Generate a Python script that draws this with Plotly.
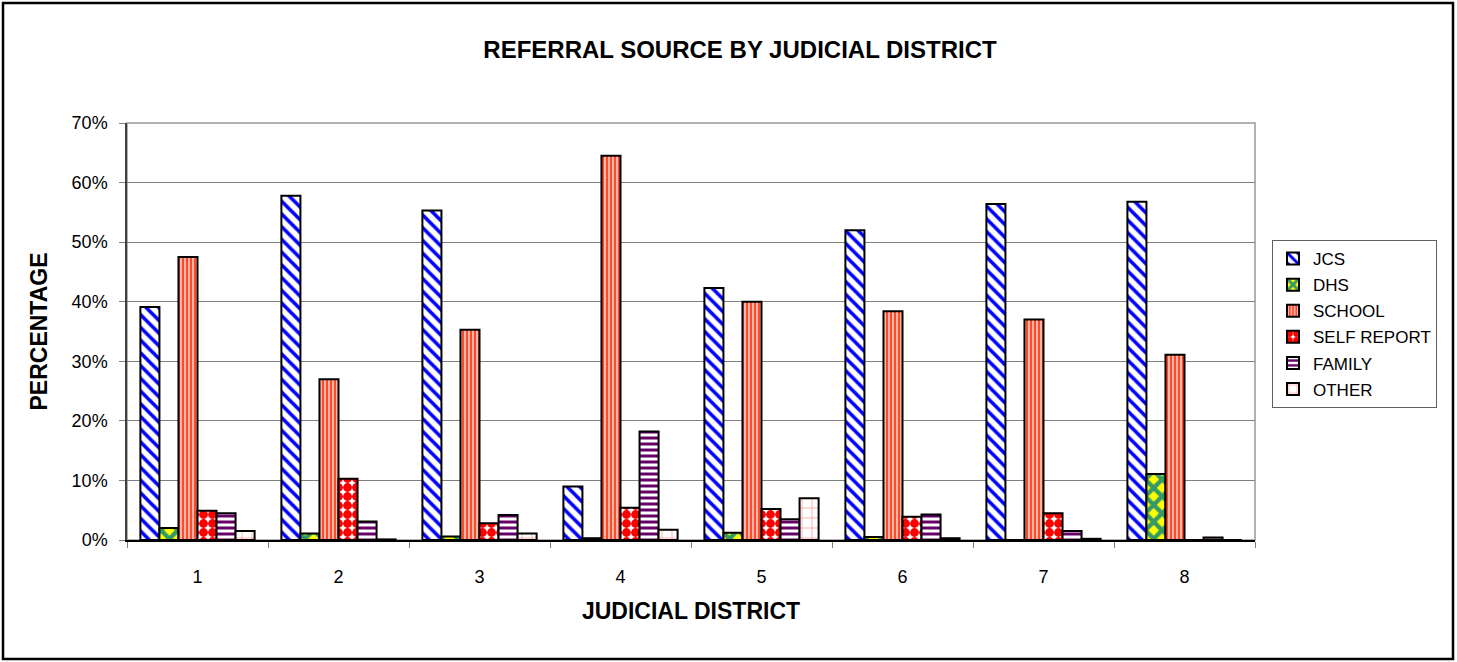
import plotly.graph_objects as go

districts = ["1", "2", "3", "4", "5", "6", "7", "8"]
series_names = ["JCS", "DHS", "SCHOOL", "SELF REPORT", "FAMILY", "OTHER"]

jcs = [39.1, 57.8, 55.3, 9.0, 42.3, 52.0, 56.4, 56.8]
dhs = [2.0, 1.1, 0.6, 0.3, 1.2, 0.5, 0.0, 11.1]
school = [47.5, 27.0, 35.3, 64.5, 40.0, 38.4, 37.0, 31.1]
self_report = [4.9, 10.3, 2.8, 5.4, 5.2, 3.9, 4.5, 0.0]
family = [4.5, 3.1, 4.2, 18.2, 3.5, 4.3, 1.5, 0.4]
other = [1.5, 0.1, 1.1, 1.7, 7.0, 0.3, 0.2, 0.0]

y_ticks = [0, 10, 20, 30, 40, 50, 60, 70]

series_values = [jcs, dhs, school, self_report, family, other]

patterns = [
    dict(shape="\\", fgcolor="#0000FF", bgcolor="#FFFFFF", size=9, solidity=0.4),
    dict(shape="x", fgcolor="#339966", bgcolor="#FFFF00", size=12, solidity=0.6),
    dict(shape="|", fgcolor="#FFFFFF", bgcolor="#FF4A2A", size=4, solidity=0.3),
    dict(shape=".", fgcolor="#FF0000", bgcolor="#FFFFFF", size=9, solidity=0.75),
    dict(shape="-", fgcolor="#660066", bgcolor="#FFFFFF", size=6, solidity=0.5),
    dict(shape="+", fgcolor="#FF9999", bgcolor="#FFFFFF", size=10, solidity=0.15),
]

FONT = "Liberation Sans, Arial, sans-serif"

fig = go.Figure()
for name, vals, pat in zip(series_names, series_values, patterns):
    fig.add_trace(go.Bar(
        name=name,
        x=districts,
        y=[v / 100 for v in vals],
        legendgroup=name,
        marker=dict(
            color=pat["bgcolor"],
            pattern=dict(shape=pat["shape"], fgcolor=pat["fgcolor"], bgcolor=pat["bgcolor"],
                         size=pat["size"], solidity=pat["solidity"], fillmode="replace"),
            line=dict(color="#000000", width=2),
        ),
    ))

W, H = 1457, 662
L, R, T, B = 127, 1255, 123, 540
pw, ph = R - L, B - T

def px(x):
    return (x - L) / pw

def py(y):
    return (B - y) / ph

fig.update_layout(
    width=W, height=H,
    margin=dict(l=L, r=W - R, t=T, b=H - B, autoexpand=False),
    paper_bgcolor="white", plot_bgcolor="white",
    barmode="group", bargap=0.19, bargroupgap=0,
    font=dict(family=FONT, color="#000000", size=18),
    title=dict(text="<b>REFERRAL SOURCE BY JUDICIAL DISTRICT</b>", x=740 / W, xanchor="center",
               y=1 - 50 / H, yanchor="middle", yref="container",
               font=dict(family=FONT, size=24, color="#000000")),
    legend=dict(x=px(1272), y=py(240), xanchor="left", yanchor="top",
                bordercolor="#606060", borderwidth=1, bgcolor="white",
                font=dict(family=FONT, size=17), tracegroupgap=1,
                itemwidth=30),
    showlegend=True,
    shapes=[
        dict(type="rect", xref="paper", yref="paper", x0=0, x1=1, y0=0, y1=1,
             line=dict(color="#999999", width=1.5), layer="below"),
        dict(type="rect", xref="paper", yref="paper", x0=px(3), x1=px(1453), y0=py(659), y1=py(3),
             line=dict(color="#000000", width=2.5), layer="above"),
    ],
)

fig.update_xaxes(
    type="category", showgrid=False, showline=True, linecolor="#000000", linewidth=2,
    ticks="outside", tickson="boundaries", ticklen=6, tickcolor="#808080",
    tickfont=dict(size=18), ticklabelstandoff=19,
    title=dict(text="<b>JUDICIAL DISTRICT</b>", font=dict(size=23), standoff=17),
)
fig.update_yaxes(
    range=[0, 0.7], tickvals=[v / 100 for v in y_ticks], tickformat=".0%",
    showgrid=True, gridcolor="#808080", gridwidth=1, zeroline=False,
    showline=True, linecolor="#404040", linewidth=1.5,
    ticks="outside", ticklen=6, tickcolor="#808080", tickfont=dict(size=18),
    ticklabelstandoff=8,
    title=dict(text="<b>PERCENTAGE</b>", font=dict(size=23), standoff=18),
)

fig.write_html(
    "out.html",
    config={"displayModeBar": False},
    post_script="document.body.style.margin='0';document.body.style.overflow='hidden';",
)
